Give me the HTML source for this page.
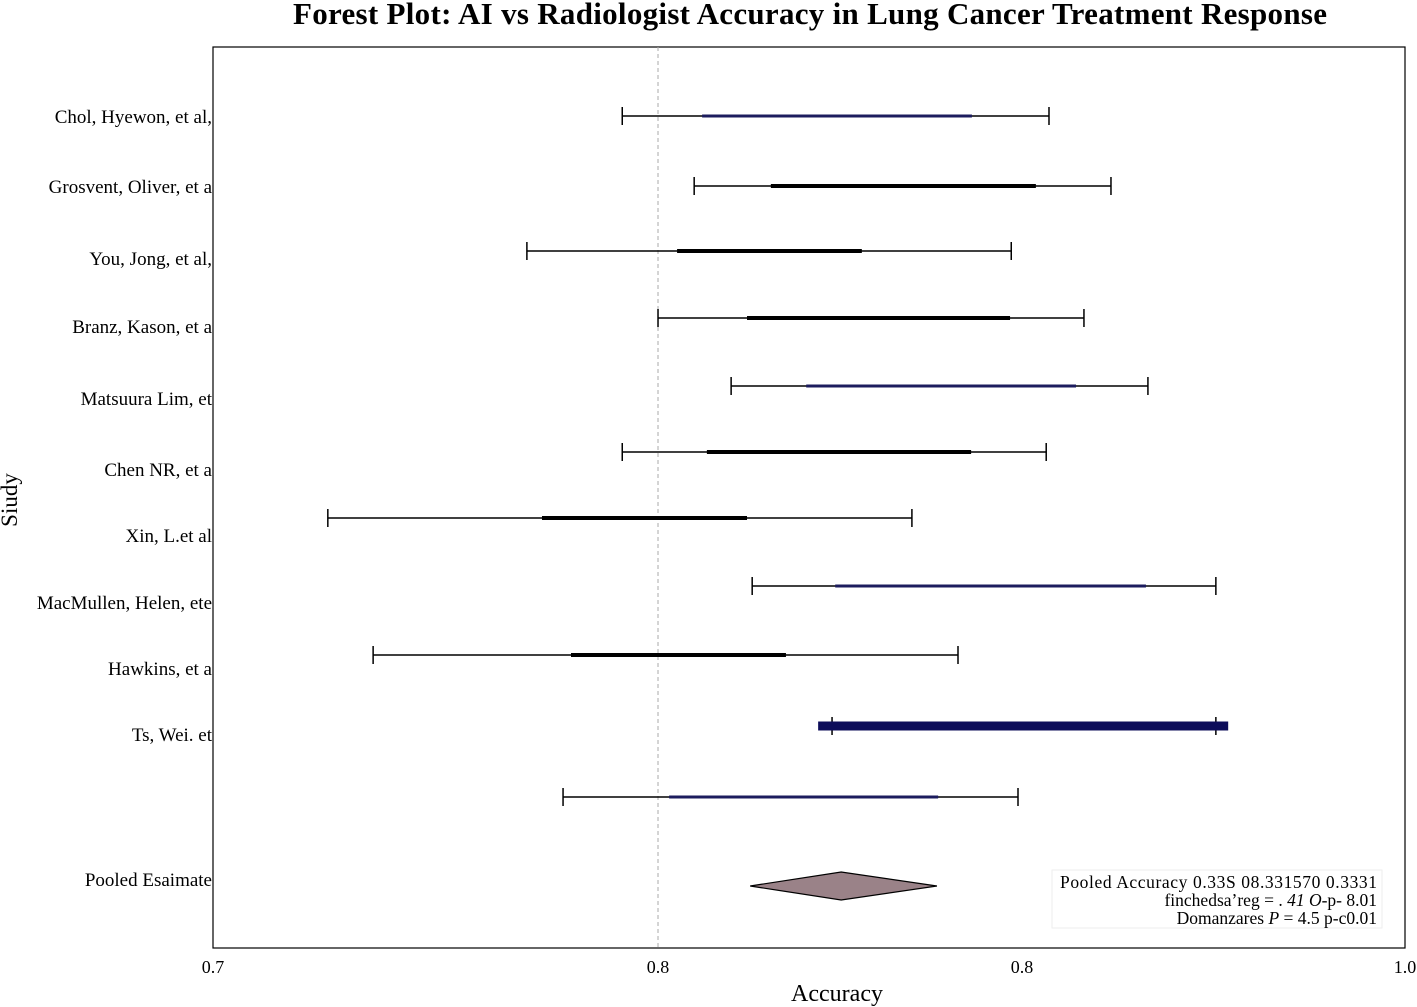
<!DOCTYPE html>
<html><head><meta charset="utf-8"><style>
body{margin:0;background:#fff;}
svg{display:block;font-family:"Liberation Serif",serif;}
</style></head><body>
<svg id="chart" width="1417" height="1007">
<text x="810" y="24" text-anchor="middle" font-size="31" font-weight="bold" textLength="1034">Forest Plot: AI vs Radiologist Accuracy in Lung Cancer Treatment Response</text>
<rect x="213" y="47" width="1192" height="901" fill="none" stroke="#000" stroke-width="1.2"/>
<text x="837" y="1001" text-anchor="middle" font-size="24">Accuracy</text>
<text x="17" y="500" text-anchor="middle" font-size="23" transform="rotate(-90 17 500)">Siudy</text>
<g id="marks"></g>
<g>
<rect x="1052" y="870" width="330" height="58" fill="#fff" stroke="#eee"/>
<text x="1060" y="888" font-size="17.5" textLength="317">Pooled Accuracy 0.33S 08.331570 0.3331</text>
<text x="1377" y="906" text-anchor="end" font-size="17.5">finchedsa’reg = . <tspan font-style="italic">41 O</tspan>-p- 8.01</text>
<text x="1377" y="924" text-anchor="end" font-size="17.5">Domanzares <tspan font-style="italic">P</tspan> = 4.5 p-c0.01</text>
</g>
</svg>
<script>
const studies=["Chol, Hyewon, et al,","Grosvent, Oliver, et a","You, Jong, et al,","Branz, Kason, et a","Matsuura Lim, et","Chen NR, et a","Xin, L.et al","MacMullen, Helen, et\u0435","Hawkins, et a","Ts, Wei. et",""];
const ciLow=[0.803,0.8211,0.779,0.812,0.8304,0.803,0.7289,0.8357,0.7403,0.8558,0.7881];
const ciHigh=[0.9104,0.926,0.9009,0.9192,0.9353,0.9097,0.8759,0.9524,0.8875,0.9524,0.9026];
const innerLow=[0.8231,0.8404,0.8168,0.8344,0.8493,0.8243,0.7828,0.8566,0.7901,0.8523,0.8148];
const innerHigh=[0.891,0.9071,0.8633,0.9006,0.9172,0.8908,0.8344,0.9348,0.8442,0.9555,0.8825];
const innerColor=["#1c1c5e","#000","#000","#000","#1c1c5e","#000","#000","#1c1c5e","#000","#0d0d5a","#1c1c5e"];
const innerWidth=[3,4,4,4,3,4,4,3,4,9,3];
const rowY=[116,186,251,318,386,452,518,586,655,726,797];
const labelY=[123,193,265,333,405,476,542,609,675,741,0];
const pooled=[0.8352,0.8581,0.8822];
const tickVals=[0.7,0.812,0.9036,1.0];
const tickLabels=["0.7","0.8","0.8","1.0"];
const refLine=0.812;
const x=v=>213+(v-0.7)/0.3*1192;
const g=document.getElementById('marks');
const NS="http://www.w3.org/2000/svg";
function mk(t,a){const e=document.createElementNS(NS,t);for(const k in a)e.setAttribute(k,a[k]);g.appendChild(e);return e;}
let r=mk('line',{x1:x(refLine),x2:x(refLine),y1:47,y2:948,stroke:'#aaa','stroke-dasharray':'4,3'});


tickVals.forEach((v,i)=>{
 const t=mk('text',{x:x(v),y:973,'text-anchor':'middle','font-size':18});t.textContent=tickLabels[i];
 
 
});
studies.forEach((s,i)=>{
 const y=rowY[i];
 const w=mk('line',{x1:x(ciLow[i]),x2:x(ciHigh[i]),y1:y,y2:y,stroke:'#000','stroke-width':1.5});
 
 
 [ciLow[i],ciHigh[i]].forEach(v=>{const c=mk('line',{x1:x(v),x2:x(v),y1:y-9,y2:y+9,stroke:'#000','stroke-width':1.5});
  
  });
 const b=mk('line',{x1:x(innerLow[i]),x2:x(innerHigh[i]),y1:y,y2:y,stroke:innerColor[i],'stroke-width':innerWidth[i]});
 
 
 if(s){const t=mk('text',{x:212,y:labelY[i],'text-anchor':'end','font-size':19});t.textContent=s;
  
  }
});
const py=886;
const d=mk('polygon',{points:`${x(pooled[0])},${py} ${x(pooled[1])},${py-14} ${x(pooled[2])},${py} ${x(pooled[1])},${py+14}`,fill:'#9a8288',stroke:'#000','stroke-width':1.2});


const pl=mk('text',{x:212,y:886,'text-anchor':'end','font-size':19});pl.textContent="Pooled Esaimate";


</script>
</body></html>
